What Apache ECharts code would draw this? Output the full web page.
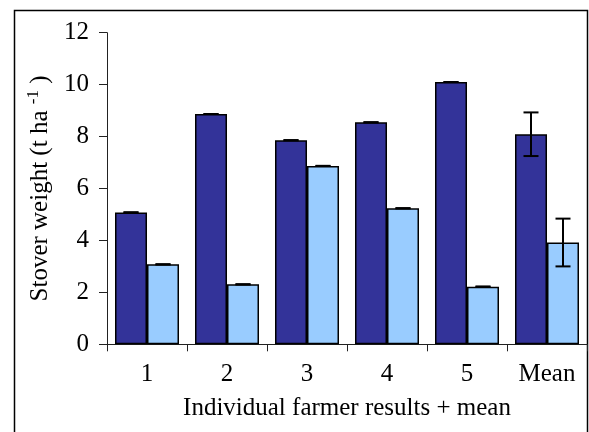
<!DOCTYPE html>
<html>
<head>
<meta charset="utf-8">
<script src="https://cdn.jsdelivr.net/npm/echarts@6/dist/echarts.min.js"></script>
<style>
html,body{margin:0;padding:0;background:#fff;}
#chart{width:589px;height:432px;}
</style>
</head>
<body>
<div id="chart"></div>
<script>
var categories = ['1', '2', '3', '4', '5', 'Mean'];
var darkValues = [5.08, 8.87, 7.86, 8.55, 10.10, 8.09];
var darkErr = [0, 0, 0, 0, 0, 0.84];
var lightValues = [3.08, 2.31, 6.87, 5.24, 2.22, 3.92];
var lightErr = [0, 0, 0, 0, 0, 0.92];
var yTicks = [0, 2, 4, 6, 8, 10, 12];

var FONT = 'Liberation Serif';

function errData(vals, errs) {
  return vals.map(function (v, i) { return [i, v, errs[i]]; });
}

function makeErrRender(sign) {
  return function (params, api) {
    var idx = api.value(0), v = api.value(1), e = api.value(2);
    var band = api.size([1, 0])[0];
    var c = api.coord([idx, v]);
    var x = c[0] + sign * band * 0.2;
    var top = api.coord([idx, v + e])[1];
    var bot = api.coord([idx, v - e])[1];
    var hw = 7.5;
    var st = { stroke: '#000', lineWidth: 2 };
    return {
      type: 'group',
      children: [
        { type: 'line', shape: { x1: x, y1: top, x2: x, y2: bot }, style: st },
        { type: 'line', shape: { x1: x - hw, y1: top, x2: x + hw, y2: top }, style: st },
        { type: 'line', shape: { x1: x - hw, y1: bot, x2: x + hw, y2: bot }, style: st }
      ]
    };
  };
}

var chart = echarts.init(document.getElementById('chart'), null, { renderer: 'canvas' });
chart.setOption({
  animation: false,
  backgroundColor: '#fff',
  textStyle: { fontFamily: FONT },
  graphic: [{
    type: 'rect',
    shape: { x: 14.5, y: 10.5, width: 573, height: 440 },
    style: { fill: 'none', stroke: '#000', lineWidth: 1.5 },
    z: -1
  }],
  grid: { left: 107, right: 2, top: 32.7, bottom: 87.7, containLabel: false },
  xAxis: {
    type: 'category',
    data: categories,
    name: 'Individual farmer results + mean',
    nameLocation: 'middle',
    nameGap: 52,
    nameTextStyle: { fontFamily: FONT, fontSize: 25, color: '#000' },
    axisLine: { lineStyle: { color: '#222', width: 1 } },
    axisTick: { show: true, length: 7, lineStyle: { color: '#222' } },
    axisLabel: { fontFamily: FONT, fontSize: 25, color: '#000', margin: 18 },
    splitLine: { show: false }
  },
  yAxis: {
    type: 'value',
    min: 0, max: 12, interval: 2,
    name: 'Stover weight (t ha {sup|-1} )',
    nameLocation: 'middle',
    nameGap: 48,
    nameTextStyle: {
      fontFamily: FONT, fontSize: 25, color: '#000',
      rich: { sup: { fontFamily: FONT, fontSize: 17, color: '#000', verticalAlign: 'top', padding: [0, 0, 14, 0] } }
    },
    axisLine: { show: true, lineStyle: { color: '#222', width: 1 } },
    axisTick: { show: true, length: 8, lineStyle: { color: '#222' } },
    axisLabel: {
      fontFamily: FONT, fontSize: 25, color: '#000', margin: 18,
      formatter: function (v) { return yTicks.indexOf(v) >= 0 ? String(v) : ''; }
    },
    splitLine: { show: false }
  },
  series: [
    {
      type: 'bar', data: darkValues, barWidth: '40%', barGap: '0%',
      itemStyle: { color: '#333399', borderColor: '#000', borderWidth: 1.5 }
    },
    {
      type: 'bar', data: lightValues, barWidth: '40%', barGap: '0%',
      itemStyle: { color: '#99CCFF', borderColor: '#000', borderWidth: 1.5 }
    },
    {
      type: 'custom', data: errData(darkValues, darkErr),
      renderItem: makeErrRender(-1), encode: { x: 0, y: 1 }, z: 10
    },
    {
      type: 'custom', data: errData(lightValues, lightErr),
      renderItem: makeErrRender(1), encode: { x: 0, y: 1 }, z: 10
    }
  ]
});
</script>
</body>
</html>
